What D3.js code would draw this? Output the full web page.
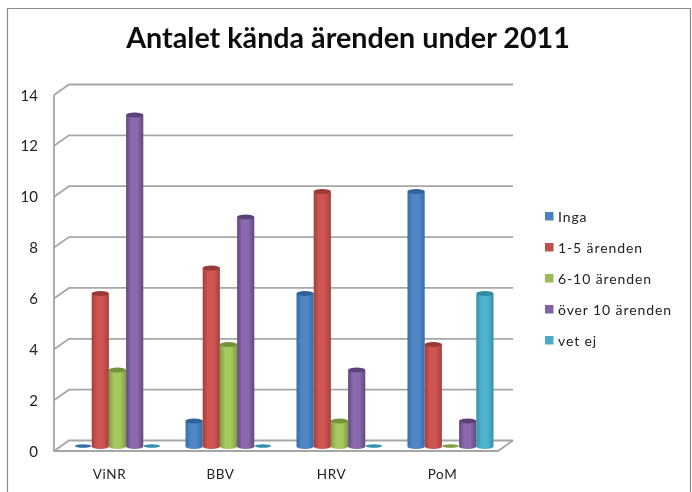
<!DOCTYPE html>
<html><head><meta charset="utf-8">
<script src="https://d3js.org/d3.v7.min.js"></script>
<style>html,body{margin:0;padding:0;background:#fff}svg{display:block}text{font-family:Lato,"Open Sans",sans-serif;fill:#222}</style>
</head><body><svg id="c" width="692" height="492"></svg>
<script>
const categories = ["ViNR","BBV","HRV","PoM"];
const seriesNames = ["Inga","1-5 ärenden","6-10 ärenden","över 10 ärenden","vet ej"];
const inga = [0,1,6,10];
const arenden1to5 = [6,7,10,4];
const arenden6to10 = [3,4,1,0];
const over10 = [13,9,3,1];
const vetEj = [0,0,0,6];
const seriesValues = [inga, arenden1to5, arenden6to10, over10, vetEj];
const yTicks = [0,2,4,6,8,10,12,14];
const colors = [
  ["#356da8","#4f86c6","#4f81bd","#2f6299"],
  ["#a33f3c","#cf5552","#c0504d","#983a37"],
  ["#7f9e41","#a6c95f","#9bbb59","#76923c"],
  ["#644880","#8a69ad","#8064a2","#5d4379"],
  ["#3191aa","#4fb5cf","#4bacc6","#2d8ba3"]
];
const svg = d3.select("#c");
const defs = svg.append("defs");
colors.forEach((c,i)=>{
  const g = defs.append("linearGradient").attr("id","g"+i);
  [[0,c[0]],[.3,c[1]],[.65,c[1]],[1,c[0]]].forEach(s=>g.append("stop").attr("offset",s[0]).attr("stop-color",s[1]));
});
defs.append("filter").attr("id","soft").attr("x","-10%").attr("y","-10%").attr("width","120%").attr("height","120%")
  .append("feGaussianBlur").attr("stdDeviation",0.4);

// frame
svg.append("path").attr("d","M7.5,492V8.5H690.5V492").attr("fill","none").attr("stroke","#8c8c8c").attr("stroke-width",1.2);

// title
svg.append("text").attr("x",348).attr("y",48).attr("text-anchor","middle").attr("filter","url(#soft)")
  .attr("font-size",28.7).attr("font-weight",700).style("fill","#111").text("Antalet kända ärenden under 2011");

// plot geometry
const dx = 15, dy = 10.5;
const x0 = 54, x1 = 498;
const yFront = d3.scaleLinear().domain([0,14]).range([451,95]);
const yBar = d3.scaleLinear().domain([0,14]).range([446.5,89.5]);
const xCat = d3.scaleBand().domain(categories).range([x0,x1]);
const xBar = d3.scaleBand().domain(d3.range(5)).range([0,86]);
const barShift = 20.5;

const grid = svg.append("g").attr("filter","url(#soft)").attr("fill","none").attr("stroke","#a6a6a6").attr("stroke-width",1.8);
yTicks.forEach(t=>{
  const y = yFront(t);
  grid.append("path").attr("d",`M${x0},${y}L${x0+dx},${y-dy}H${x1+dx}`);
});
grid.append("path").attr("d",`M${x0},${yFront(14)}V${yFront(0)}H${x1}L${x1+dx},${yFront(0)-dy}`);

// tick labels
svg.append("g").attr("filter","url(#soft)").selectAll("text").data(yTicks).join("text")
  .attr("x",38).attr("y",d=>yFront(d)+5.5).attr("text-anchor","end").attr("font-size",15).text(d=>d);
svg.append("g").attr("filter","url(#soft)").selectAll("text").data(categories).join("text")
  .attr("x",d=>xCat(d)+xCat.bandwidth()/2).attr("y",479).attr("text-anchor","middle")
  .attr("font-size",13.5).attr("letter-spacing",0.6).text(d=>d);

// bars
const bars = svg.append("g").attr("filter","url(#soft)");
categories.forEach((cat,ci)=>{
  seriesValues.forEach((vals,si)=>{
    const v = vals[ci];
    const bx = xCat(cat)+barShift+xBar(si), w = xBar.bandwidth();
    const top = yBar(v), base = yBar(0), ry = 2.4, rx = w/2;
    if(v===0){
      bars.append("ellipse").attr("cx",bx+rx).attr("cy",base-.5).attr("rx",rx-.5).attr("ry",1.8).attr("fill",colors[si][0]);
      return;
    }
    bars.append("path")
      .attr("d",`M${bx},${top}V${base}A${rx},${ry} 0 0 0 ${bx+w},${base}V${top}Z`)
      .attr("fill",`url(#g${si})`);
    bars.append("ellipse").attr("cx",bx+rx).attr("cy",top).attr("rx",rx).attr("ry",ry).attr("fill",colors[si][3]);
  });
});

// legend
const legendY = d3.scaleBand().domain(seriesNames).range([201,356]);
const lg = svg.append("g").attr("filter","url(#soft)").selectAll("g").data(seriesNames).join("g")
  .attr("transform",d=>`translate(545,${legendY(d)+legendY.bandwidth()/2})`);
lg.append("rect").attr("y",-4.5).attr("width",8.5).attr("height",8.5).attr("fill",(d,i)=>colors[i][2]);
lg.append("text").attr("x",13).attr("y",5).attr("font-size",14).attr("letter-spacing",0.9).text(d=>d);
</script></body></html>
